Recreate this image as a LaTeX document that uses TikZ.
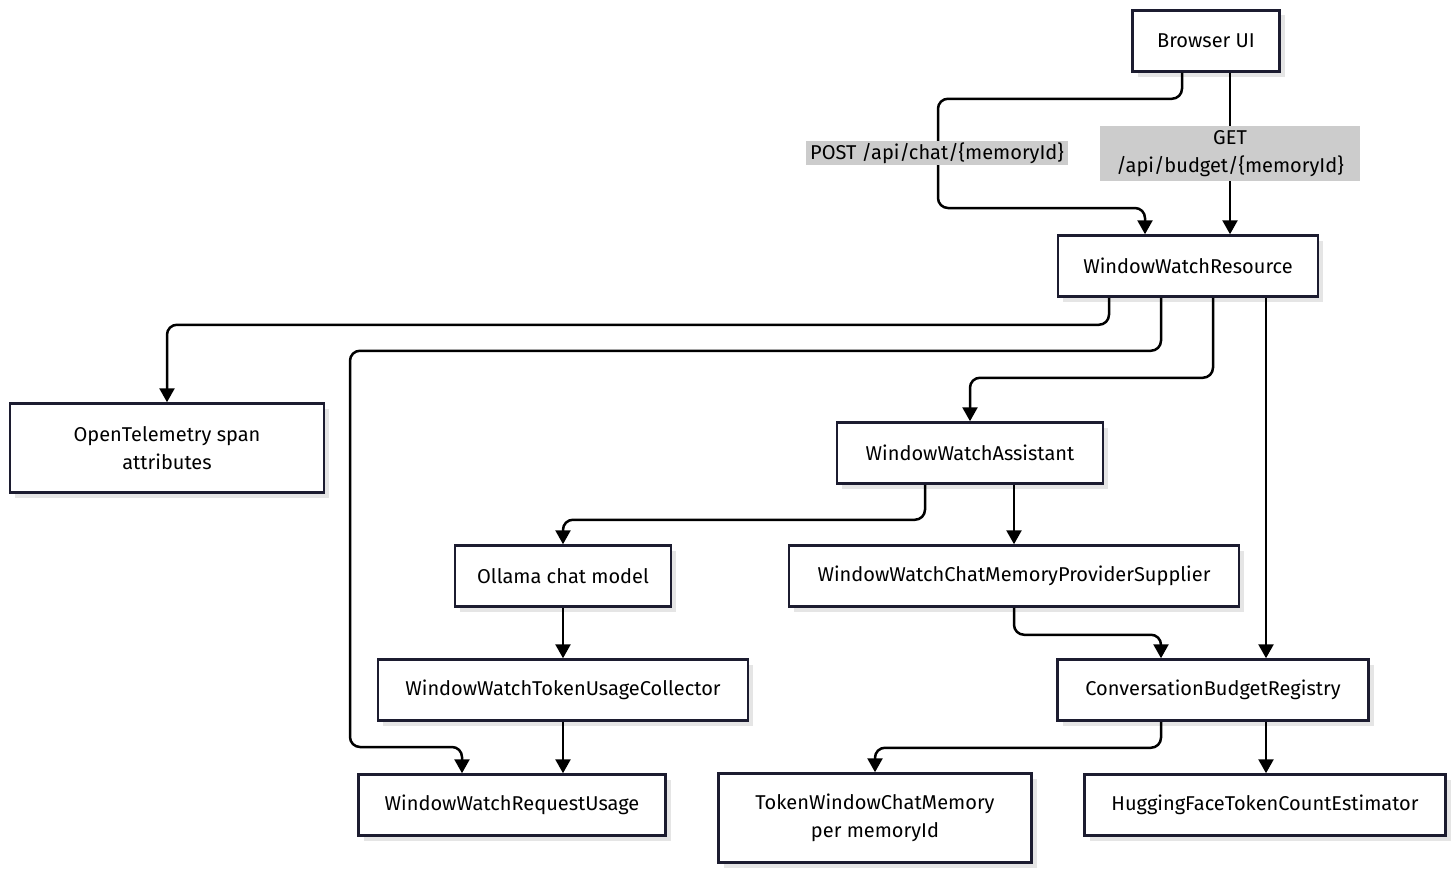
\documentclass[tikz,border=0pt]{standalone}
\usepackage{fontspec}
\setmainfont{Fira Sans}
\usepackage{tikz}
\usetikzlibrary{arrows.meta, positioning, shadows}
\definecolor{boxline}{HTML}{1C1C30}
\definecolor{lblgray}{HTML}{CCCCCC}
\tikzset{
  compnode/.style = {draw=boxline, line width=2.5pt, fill=white, align=center,
                     minimum height=61pt, inner xsep=20pt,
                     font=\fontsize{20}{28}\selectfont,
                     drop shadow={shadow xshift=5pt, shadow yshift=-5pt,
                                  fill=black!10, opacity=1}},
  edgelbl/.style  = {fill=lblgray, align=center, inner ysep=2pt, sharp corners,
                     font=\fontsize{20}{28}\selectfont},
  flow/.style     = {-{Triangle[width=15pt,length=14pt]}, line width=2.5pt,
                     rounded corners=10pt},
}

\begin{document}
\begin{tikzpicture}[x=1pt, y=-1pt]
    \useasboundingbox (0,0) rectangle (1456,875);
    % --- entry --------------------------------------------------------
    \node[compnode, minimum width=147pt] (ui)   at (1206,41)  {Browser UI};
    \node[compnode, minimum width=260pt] (res)  at (1188,266) {WindowWatchResource};
    % --- left branch --------------------------------------------------
    \node[compnode, minimum width=314pt, minimum height=89pt] (otel) at (167,448) {OpenTelemetry span\\attributes};
    \node[compnode, minimum width=266pt] (asst) at (970,453)  {WindowWatchAssistant};
    \node[compnode, minimum width=216pt] (oll)  at (563,576)  {Ollama chat model};
    \node[compnode, minimum width=450pt] (sup)  at (1014,576) {WindowWatchChatMemoryProviderSupplier};
    \node[compnode, minimum width=370pt] (coll) at (563,690)  {WindowWatchTokenUsageCollector};
    \node[compnode, minimum width=311pt] (reg)  at (1213,690) {ConversationBudgetRegistry};
    % --- leaves -------------------------------------------------------
    \node[compnode, minimum width=307pt] (req)  at (512,805)  {WindowWatchRequestUsage};
    \node[compnode, minimum width=313pt, minimum height=89pt] (tok) at (875,818) {TokenWindowChatMemory\\per memoryId};
    \node[compnode, minimum width=361pt] (hug)  at (1265,805) {HuggingFaceTokenCountEstimator};
    % --- edges --------------------------------------------------------
    \draw[flow] ([xshift=-24pt]ui.south) -- ++(0,26) -| (938,208) -| ([xshift=-43pt]res.north);
    \draw[flow] ([xshift=24pt]ui.south) -- node[edgelbl, inner xsep=16pt, minimum height=55pt] (lget) {GET\\/api/budget/\{memoryId\}} ([xshift=42pt]res.north);
    \node[edgelbl, inner xsep=4pt] (lpost) at (937,153) {POST /api/chat/\{memoryId\}};
    \draw[flow] ([xshift=-79pt]res.south) -- ++(0,27) -| (otel.north);
    \draw[flow] ([xshift=-27pt]res.south) -- ++(0,53) -| (350,747) -| ([xshift=-50pt]req.north);
    \draw[flow] ([xshift=25pt]res.south) -- ++(0,80) -| (asst.north);
    \draw[flow] ([xshift=78pt]res.south) -- ([xshift=53pt]reg.north);
    \draw[flow] ([xshift=-45pt]asst.south) -- ++(0,35) -| (oll.north);
    \draw[flow] ([xshift=44pt]asst.south) -- (sup.north);
    \draw[flow] (oll.south) -- (coll.north);
    \draw[flow] (sup.south) -- ++(0,27) -| ([xshift=-52pt]reg.north);
    \draw[flow] (coll.south) -- ([xshift=51pt]req.north);
    \draw[flow] ([xshift=-52pt]reg.south) -- ++(0,26) -| (tok.north);
    \draw[flow] ([xshift=53pt]reg.south) -- ([xshift=1pt]hug.north);
\end{tikzpicture}
\end{document}
